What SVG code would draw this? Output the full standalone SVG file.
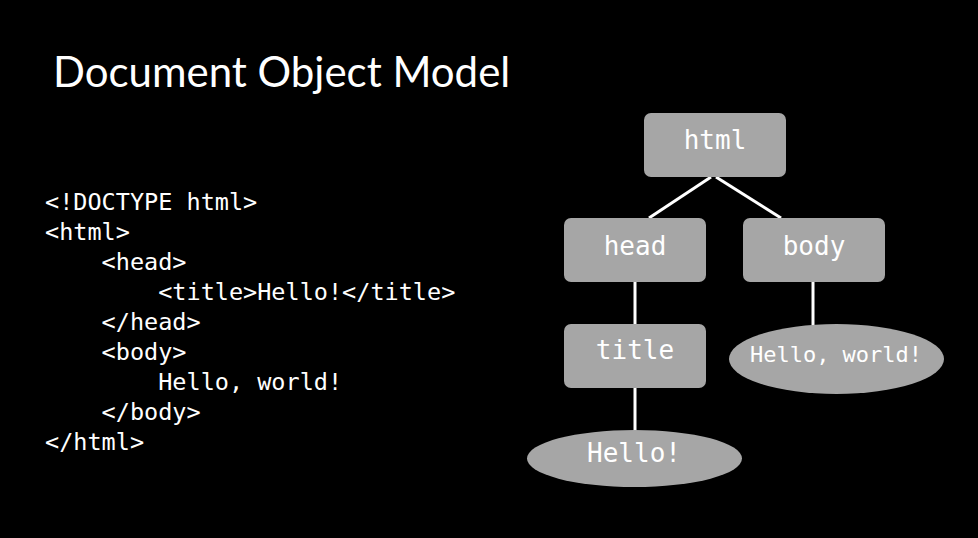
<svg xmlns="http://www.w3.org/2000/svg" width="978" height="538" viewBox="0 0 978 538">
  <style>
    .title { font-family: Lato, "Liberation Sans", sans-serif; font-size: 42px; fill: #ffffff; }
    .code { font-family: "DejaVu Sans Mono", "Liberation Mono", monospace; font-size: 23.5px; fill: #ffffff; white-space: pre; }
    .node { fill: #a6a6a6; }
    .label { font-family: "DejaVu Sans Mono", "Liberation Mono", monospace; font-size: 26px; fill: #ffffff; text-anchor: middle; }
    .small { font-size: 22px; }
    .edge { stroke: #ffffff; stroke-width: 3; fill: none; }
  </style>
  <rect width="978" height="538" fill="#000000"/>

  <text class="title" x="53" y="87">Document Object Model</text>

  <!-- source listing -->
  <g id="source">
    <text class="code" x="45" y="210">&lt;!DOCTYPE html&gt;</text>
    <text class="code" x="45" y="240">&lt;html&gt;</text>
    <text class="code" x="45" y="270">    &lt;head&gt;</text>
    <text class="code" x="45" y="300">        &lt;title&gt;Hello!&lt;/title&gt;</text>
    <text class="code" x="45" y="330">    &lt;/head&gt;</text>
    <text class="code" x="45" y="360">    &lt;body&gt;</text>
    <text class="code" x="45" y="390">        Hello, world!</text>
    <text class="code" x="45" y="420">    &lt;/body&gt;</text>
    <text class="code" x="45" y="450">&lt;/html&gt;</text>
  </g>

  <!-- tree edges -->
  <g id="connectors">
    <line class="edge" x1="711" y1="177" x2="649" y2="218"/>
    <line class="edge" x1="716" y1="177" x2="781" y2="218"/>
    <line class="edge" x1="635" y1="282" x2="635" y2="324"/>
    <line class="edge" x1="813" y1="282" x2="813" y2="325"/>
    <line class="edge" x1="635" y1="388" x2="635" y2="431"/>
  </g>

  <g id="node-html">
    <rect class="node" x="644" y="113" width="142" height="64" rx="7"/>
    <text class="label" x="715" y="149">html</text>
  </g>
  <g id="node-head">
    <rect class="node" x="564" y="218" width="142" height="64" rx="7"/>
    <text class="label" x="635" y="255">head</text>
  </g>
  <g id="node-body">
    <rect class="node" x="743" y="218" width="142" height="64" rx="7"/>
    <text class="label" x="814" y="255">body</text>
  </g>
  <g id="node-title">
    <rect class="node" x="564" y="324" width="142" height="64" rx="7"/>
    <text class="label" x="635" y="359">title</text>
  </g>
  <g id="node-hello-world">
    <ellipse class="node" cx="836.5" cy="359" rx="107.5" ry="35"/>
    <text class="label small" x="836" y="362">Hello, world!</text>
  </g>
  <g id="node-hello">
    <ellipse class="node" cx="634.5" cy="458.5" rx="107.5" ry="28.5"/>
    <text class="label" x="634" y="462">Hello!</text>
  </g>
</svg>
